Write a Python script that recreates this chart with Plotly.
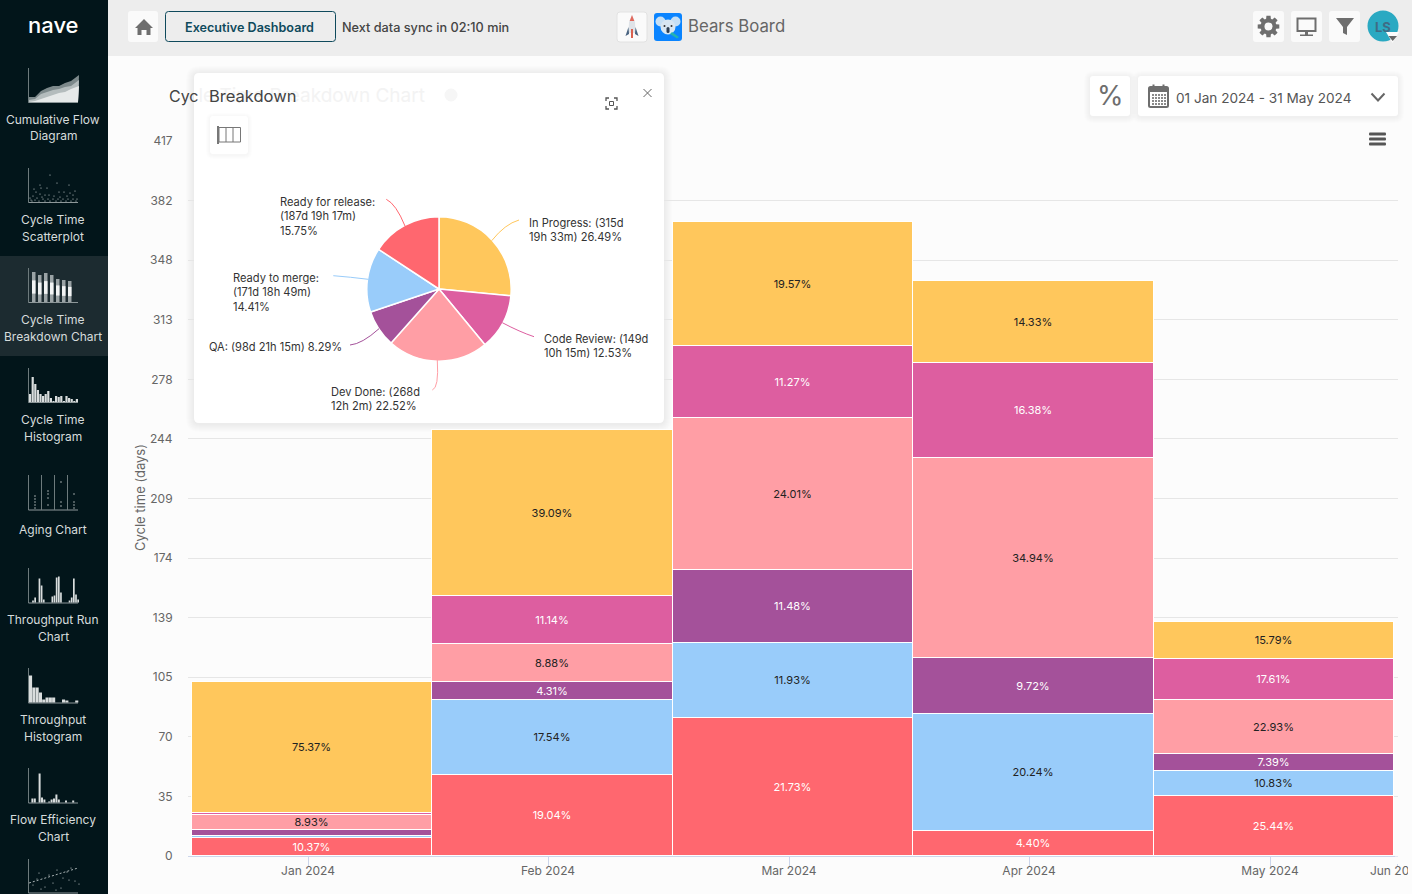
import math
import plotly.graph_objects as go

FONT = "Inter"
W, H = 1412, 894

# chart data
months = ["Jan 2024", "Feb 2024", "Mar 2024", "Apr 2024", "May 2024"]
tick_labels = ["Jan 2024", "Feb 2024", "Mar 2024", "Apr 2024", "May 2024", "Jun 2024"]
totals = [101.6, 248.5, 369.7, 335.3, 136.7]
in_progress = [75.37, 39.09, 19.57, 14.33, 15.79]
code_review = [0.90, 11.14, 11.27, 16.38, 17.61]
dev_done = [8.93, 8.88, 24.01, 34.94, 22.93]
qa = [3.43, 4.31, 11.48, 9.72, 7.39]
ready_to_merge = [1.00, 17.54, 11.93, 20.24, 10.83]
ready_for_release = [10.37, 19.04, 21.73, 4.40, 25.44]
y_tick_vals = [0, 34.75, 69.5, 104.25, 139, 173.75, 208.5, 243.25, 278, 312.75, 347.5, 382.25, 417]
y_tick_text = ["0", "35", "70", "105", "139", "174", "209", "244", "278", "313", "348", "382", "417"]

# pie data
pie_labels = ["In Progress", "Code Review", "Dev Done", "QA", "Ready to merge", "Ready for release"]
pie_values = [26.49, 12.53, 22.52, 8.29, 14.41, 15.75]

colors = {
    "In Progress": "#ffc75c",
    "Code Review": "#dd5ea0",
    "Dev Done": "#ff9ea5",
    "QA": "#a4519a",
    "Ready to merge": "#99ccfa",
    "Ready for release": "#ff676f",
}

# sidebar
nav_items = [
    (119, "Cumulative Flow"), (136, "Diagram"),
    (219, "Cycle Time"), (236, "Scatterplot"),
    (319, "Cycle Time"), (336, "Breakdown Chart"),
    (419, "Cycle Time"), (436, "Histogram"),
    (529, "Aging Chart"),
    (619, "Throughput Run"), (636, "Chart"),
    (719, "Throughput"), (736, "Histogram"),
    (819, "Flow Efficiency"), (836, "Chart"),
]

# little sidebar icon data
area_back = [5, 5, 11, 14, 16, 16, 19, 21, 27]
area_mid = [2, 3, 8, 10, 12, 13, 15, 16, 22]
area_front = [0, 1, 3, 5, 7, 9, 10, 13, 16]
area_x = [0, 6, 12, 18, 24, 30, 36, 42, 50]
scatter_dots = [(21, 27), (11, 17), (28, 19), (40, 17), (12, 14), (18, 14), (5, 13), (30, 10), (35, 10), (41, 9),
                (46, 11), (7, 10), (11, 8), (16, 7), (20, 7), (25, 6), (31, 5), (38, 6), (44, 7), (4, 6), (8, 4),
                (14, 3), (19, 3), (24, 3), (29, 3), (34, 3), (39, 3), (44, 3), (48, 3), (2, 2), (6, 2), (10, 1),
                (16, 1), (21, 1), (27, 1), (32, 1), (37, 1), (42, 1), (47, 1), (1, 4), (3, 1), (13, 5)]
stack_heights = [30, 27, 29, 27, 23, 22, 21]
hist_heights = [8, 25, 18, 12, 8, 6, 8, 11, 4, 1, 6, 5, 6, 1, 6, 4, 3, 1, 3]
aging_dots = [(6, 14), (6, 11), (6, 8), (6, 5), (6, 2), (19, 19), (19, 16), (19, 12), (19, 5),
              (32, 28), (32, 8), (32, 4), (45, 16), (45, 8), (45, 5), (45, 2)]
run_heights = [0, 2, 5, 0, 24, 17, 3, 0, 0, 0, 6, 7, 25, 26, 10, 0, 0, 0, 2, 5, 24, 8, 3]
tp_hist_heights = [27, 15, 15, 10, 3, 5, 5, 5, 0, 0, 3, 2, 0, 0, 2]
flow_heights = [0, 4, 4, 0, 29, 5, 3, 0, 1, 3, 4, 8, 3, 0, 0, 2, 0, 0, 2, 0]
trend_dots = [(4, 8), (8, 14), (10, 20), (16, 6), (20, 18), (24, 10), (28, 23), (32, 5), (34, 15), (38, 21),
              (42, 25), (46, 12), (50, 9), (12, 4), (27, 3), (40, 13)]


def fx(p):
    return p / W


def fy(p):
    return 1 - p / H


# bar chart pixel scale
def dx(p):
    return (p - 192) / 240.4 - 0.5


def dy(p):
    return (856 - p) / (715 / 417)


shapes = []
annotations = []


def rect(x0, y0, x1, y1, fill, line=None, layer="below", width=1):
    shapes.append(dict(type="rect", xref="paper", yref="paper", x0=fx(x0), x1=fx(x1), y0=fy(y0), y1=fy(y1),
                       fillcolor=fill, line=dict(color=line or fill, width=width if line else 0), layer=layer))


def rounded(x0, y0, x1, y1, r, fill, line=None, layer="below", opacity=1, width=1):
    a, b, c, d = fx(x0), fx(x1), fy(y0), fy(y1)
    rx, ry = r / W, r / H
    path = (f"M {a + rx} {c} L {b - rx} {c} Q {b} {c} {b} {c - ry} L {b} {d + ry} Q {b} {d} {b - rx} {d} "
            f"L {a + rx} {d} Q {a} {d} {a} {d + ry} L {a} {c - ry} Q {a} {c} {a + rx} {c} Z")
    shapes.append(dict(type="path", xref="paper", yref="paper", path=path, fillcolor=fill, opacity=opacity,
                       line=dict(color=line or fill, width=width if line else 0), layer=layer))


def card(x0, y0, x1, y1, r, fill="#ffffff", spread=6, layer="below"):
    # soft shadow from a few stacked rectangles
    for i in range(spread, 0, -1):
        rounded(x0 - i, y0 - i + 1, x1 + i, y1 + i + 1, r + i, "#000000", opacity=0.006, layer=layer)
    rounded(x0, y0, x1, y1, r, fill, layer=layer)


def poly(points, fill=None, line=None, width=1, close=True, layer="below"):
    path = "M " + " L ".join(f"{fx(a)} {fy(b)}" for a, b in points) + (" Z" if close else "")
    shapes.append(dict(type="path", xref="paper", yref="paper", path=path, fillcolor=fill or "rgba(0,0,0,0)",
                       line=dict(color=line or "rgba(0,0,0,0)", width=width), layer=layer))


def seg(x0, y0, x1, y1, color, width=1, layer="below"):
    shapes.append(dict(type="line", xref="paper", yref="paper", x0=fx(x0), x1=fx(x1), y0=fy(y0), y1=fy(y1),
                       line=dict(color=color, width=width), layer=layer))


def curve(x0, y0, cx, cy, x1, y1, color):
    path = f"M {fx(x0)} {fy(y0)} Q {fx(cx)} {fy(cy)} {fx(x1)} {fy(y1)}"
    shapes.append(dict(type="path", xref="paper", yref="paper", path=path, line=dict(color=color, width=1),
                       fillcolor="rgba(0,0,0,0)", layer="above"))


def dot(x, y, r, color):
    shapes.append(dict(type="circle", xref="paper", yref="paper", x0=fx(x - r), x1=fx(x + r), y0=fy(y - r),
                       y1=fy(y + r), fillcolor=color, line=dict(width=0), layer="below"))


def txt(x, y, s, size=12, color="#444444", anchor="left", weight=400, angle=0):
    annotations.append(dict(x=fx(x), y=fy(y), xref="paper", yref="paper", text=s, showarrow=False, xanchor=anchor,
                            yanchor="middle", align=anchor if anchor != "center" else "center", textangle=angle,
                            font=dict(size=size, color=color, family=FONT, weight=weight), borderpad=0))


def axes_icon(top, bottom):
    seg(28.5, top, 28.5, bottom, "#6d7a7c")
    seg(28.5, bottom, 78, bottom, "#8d9799")


def bars_icon(bottom, heights, step, bar, x0=29, color="#d9dddd"):
    for i, h in enumerate(heights):
        if h:
            rect(x0 + i * step, bottom - h, x0 + i * step + bar, bottom, color)


# page pieces
rect(0, 0, W, H, "#fcfcfc")
rect(108, 0, W, 56, "#ededed")
rect(0, 0, 108, H, "#02151a")
rect(0, 256, 108, 356, "#1c2b30")

txt(53, 25, "nave", 22, "#ffffff", "center", weight=500)
for y, label in nav_items:
    txt(53, y, label, 12, "#d6dcdc", "center")

# sidebar icons
axes_icon(68, 102.5)
for layer_h, c in ((area_back, "#7d898b"), (area_mid, "#b4bcbd"), (area_front, "#e6e9e9")):
    poly([(29, 102)] + [(29 + a, 102 - h) for a, h in zip(area_x, layer_h)] + [(78, 102)], fill=c)

axes_icon(168, 202.5)
for a, h in scatter_dots:
    dot(29 + a, 202 - h, 0.6, "#cfd5d5")

axes_icon(268, 302.5)
for i, h in enumerate(stack_heights):
    bx = 32 + i * 6
    rect(bx, 302 - h, bx + 3.5, 302, "#9aa3a5")
    rect(bx, 302 - h * 0.72, bx + 3.5, 302 - h * 0.28, "#f2f4f4")

axes_icon(368, 402.5)
bars_icon(402, hist_heights, 2.6, 2.2)

axes_icon(475, 510)
for k in (41.5, 54.5, 67.5):
    seg(k, 475, k, 510, "#6d7a7c")
for a, h in aging_dots:
    dot(29 + a, 510 - h, 0.7, "#cfd5d5")

axes_icon(568, 603)
bars_icon(602.5, run_heights, 2.15, 1.7, x0=30)

axes_icon(668, 703)
bars_icon(702.5, tp_hist_heights, 3.3, 3.1)

axes_icon(768, 803)
bars_icon(802.5, flow_heights, 2.4, 2)

axes_icon(859, 893)
for a, h in trend_dots:
    dot(29 + a, 893 - h, 0.6, "#cfd5d5")
poly([(29, 883), (78, 868)], line="#aab3b4", close=False)
shapes[-1]["line"]["dash"] = "2px,2px"

# top bar
rounded(128, 11, 158, 42, 3, "#fafafa")
poly([(144, 19), (135, 28), (137.5, 28), (137.5, 35), (141.5, 35), (141.5, 30), (146.5, 30), (146.5, 35),
      (150.5, 35), (150.5, 28), (153, 28)], fill="#6e6e6e")
rounded(165.5, 11.5, 335.5, 41.5, 3, "rgba(0,0,0,0)", line="#0f4a5c")
txt(250, 27, "Executive Dashboard", 12.6, "#0f4a5c", "center", weight=600)
txt(341, 27, "Next data sync in 02:10 min", 12.7, "#444444", weight=500)

# rocket
rounded(617, 12, 647, 42, 3, "#fafafa", line="#e2e2e2")
poly([(632, 15), (635, 22), (635.5, 33), (628.5, 33), (629, 22)], fill="#dfe3e8")
poly([(632, 15), (634.3, 21), (629.7, 21)], fill="#e2695c")
poly([(628.5, 27), (625.5, 36), (629, 34)], fill="#47617f")
poly([(635.5, 27), (638.5, 36), (635, 34)], fill="#47617f")
rect(631, 29, 633, 38, "#d9604f")
# koala
rounded(654, 13, 682, 41, 3, "#0a84ff")
dot(660.5, 21.5, 5, "#c5dff5")
dot(675.5, 21.5, 5, "#c5dff5")
dot(668, 27, 7.5, "#d8e6f2")
dot(664.5, 26, 1, "#333333")
dot(671.5, 26, 1, "#333333")
rounded(666.5, 27, 669.5, 33, 1.5, "#2f3f52")
poly([(672, 32), (679, 37), (677, 38.5), (670, 34)], fill="#24b3b0")
txt(687, 26, "Bears Board", 16.8, "#666666")

for bx in (1253, 1291, 1329):
    rounded(bx, 11, bx + 31, 42, 3, "#fafafa")
# gear
gear = []
for i in range(8):
    a0 = i * math.pi / 4
    for off, rad in ((-0.3, 8), (-0.19, 11), (0.19, 11), (0.3, 8)):
        gear.append((1268.5 + rad * math.cos(a0 + off), 26.5 + rad * math.sin(a0 + off)))
poly(gear, fill="#6e6e6e")
dot(1268.5, 26.5, 4, "#fafafa")
# monitor
rect(1297.5, 18.5, 1315.5, 31, "rgba(0,0,0,0)", line="#6e6e6e", width=2)
rect(1305, 32, 1308, 35, "#6e6e6e")
rect(1300, 34.5, 1313, 36, "#6e6e6e")
# filter
poly([(1336, 18), (1354, 18), (1347, 27), (1347, 35), (1343, 33), (1343, 27)], fill="#6e6e6e")
# avatar
dot(1383, 26, 15.5, "#2aa9c2")
txt(1383, 27, "LS", 13, "#3f6c85", "center", weight=700)
poly([(1386, 32), (1399, 32), (1392.5, 43)], fill="#fcfcfc")
poly([(1388.5, 36), (1397, 36), (1392.7, 41)], fill="#666666")

# date controls
card(1090, 76, 1130, 116, 3)
txt(1110, 96, "%", 27, "#6e6e6e", "center")
card(1138, 76, 1398, 116, 3)
rounded(1149, 87, 1168, 107, 1.5, "rgba(0,0,0,0)", line="#6e6e6e", width=2)
rect(1149, 87, 1168, 92, "#6e6e6e")
seg(1153.5, 84.5, 1153.5, 88, "#6e6e6e", 2)
seg(1163.5, 84.5, 1163.5, 88, "#6e6e6e", 2)
for cx in range(1152, 1165, 3):
    for cy in range(94, 105, 3):
        rect(cx, cy, cx + 2, cy + 2, "#8a8a8a")
txt(1175, 98, "01 Jan 2024 - 31 May 2024", 13.6, "#555555")
poly([(1371.5, 93.5), (1378, 100.5), (1384.5, 93.5)], line="#666666", width=2, close=False)

# hamburger menu
rect(1366, 130, 1389, 150, "#fcfcfc", layer="above")
for by in (134, 139, 144):
    rounded(1369, by - 1.5, 1386, by + 1.5, 1, "#555555", layer="above")

# page title, the rest of it sits behind the popup
annotations.append(dict(x=fx(168), y=fy(95), xref="paper", yref="paper", showarrow=False, xanchor="left",
                        yanchor="middle", borderpad=0, font=dict(size=19, color="#444444", family=FONT),
                        text="<span style='font-size:16px'>Cyc</span>"
                             "<span style='color:#f3f3f3'>le Time Breakdown Chart</span>"))

# popup
card(194, 73, 664, 423, 5, spread=8)
shapes.append(dict(type="rect", xref="x", yref="y", x0=dx(194), x1=dx(664), y0=dy(400), y1=dy(130),
                   fillcolor="#ffffff", line=dict(width=0), layer="between"))
dot(451, 95, 6.5, "#f6f6f6")
txt(208, 96, "Breakdown", 16.5, "#444444")
card(210, 116, 248, 154, 3, spread=4, layer="above")
rect(219, 127.5, 240.5, 142, "rgba(0,0,0,0)", line="#777777", layer="above")
seg(218, 126, 218, 144, "#777777", 2, layer="above")
seg(226, 127.5, 226, 142, "#777777", layer="above")
seg(233, 127.5, 233, 142, "#777777", layer="above")
# focus icon
for sx, sy in ((606, 98), (617, 98), (606, 109), (617, 109)):
    hx = 3 if sx == 606 else -3
    hy = 3 if sy == 98 else -3
    poly([(sx + hx, sy), (sx, sy), (sx, sy + hy)], line="#555555", width=1.3, close=False)
rect(609.5, 101.5, 613.5, 105.5, "rgba(0,0,0,0)", line="#555555")
seg(643.5, 89, 651.5, 97, "#666666")
seg(651.5, 89, 643.5, 97, "#666666")

# pie leader lines and labels
curve(491.7, 240.7, 505, 224, 519, 220, colors["In Progress"])
curve(405, 226, 396, 204, 386.3, 199.3, colors["Ready for release"])
curve(368.3, 279.3, 350, 277, 333.3, 275.7, colors["Ready to merge"])
curve(379, 328.7, 362, 344, 350, 345, colors["QA"])
curve(437.3, 360, 439, 388, 432.3, 390, colors["Dev Done"])
curve(502.3, 322.7, 520, 332, 534, 336.7, colors["Code Review"])
txt(279, 216, "Ready for release:<br>(187d 19h 17m)<br>15.75%", 11.1, "#333333")
txt(528, 230, "In Progress: (315d<br>19h 33m) 26.49%", 11.1, "#333333")
txt(232, 292, "Ready to merge:<br>(171d 18h 49m)<br>14.41%", 11.1, "#333333")
txt(208, 347, "QA: (98d 21h 15m) 8.29%", 11.1, "#333333")
txt(330, 399, "Dev Done: (268d<br>12h 2m) 22.52%", 11.1, "#333333")
txt(543, 346, "Code Review: (149d<br>10h 15m) 12.53%", 11.1, "#333333")

txt(140, 498, "Cycle time (days)", 13, "#666666", "center", angle=-90)

# the page cuts the last month label, and that month has no tick
rect(1395, 856.5, 1400, 864, "#fcfcfc", layer="above")
rect(1408, 860, 1412, 885, "#fcfcfc", layer="above")

fig = go.Figure()

series = [
    ("Ready for release", ready_for_release, "#ffffff"),
    ("Ready to merge", ready_to_merge, "#222222"),
    ("QA", qa, "#ffffff"),
    ("Dev Done", dev_done, "#222222"),
    ("Code Review", code_review, "#ffffff"),
    ("In Progress", in_progress, "#222222"),
]
for name, pct, text_color in series:
    fig.add_trace(go.Bar(
        x=list(range(len(months))),
        y=[t * p / 100 for t, p in zip(totals, pct)],
        name=name,
        width=1,
        marker=dict(color=colors[name], line=dict(color="#ffffff", width=1)),
        text=[f"{p:.2f}%" if p >= 4 else "" for p in pct],
        textposition="inside",
        insidetextanchor="middle",
        textangle=0,
        constraintext="none",
        textfont=dict(size=11, color=text_color, family=FONT),
        showlegend=False,
    ))

fig.add_trace(go.Pie(
    labels=pie_labels,
    values=pie_values,
    sort=False,
    direction="clockwise",
    rotation=0,
    textinfo="none",
    marker=dict(colors=[colors[k] for k in pie_labels], line=dict(color="#ffffff", width=1.5)),
    domain=dict(x=[fx(366.8), fx(511.2)], y=[fy(361.2), fy(216.8)]),
    showlegend=False,
))

fig.update_layout(
    width=W, height=H,
    margin=dict(l=0, r=0, t=0, b=0),
    autosize=False,
    paper_bgcolor="#fcfcfc",
    plot_bgcolor="#fcfcfc",
    barmode="stack",
    bargap=0,
    font=dict(family=FONT, color="#666666", size=12),
    shapes=shapes,
    annotations=annotations,
    xaxis=dict(
        domain=[fx(188), fx(1398)],
        range=[dx(188), dx(1398)],
        automargin=False,
        tickmode="array",
        tickvals=[dx(308), dx(548), dx(789), dx(1029), dx(1270), dx(1397)],
        ticktext=tick_labels,
        ticks="outside", ticklen=10, tickcolor="#ccd6eb",
        ticklabelstandoff=-6,
        showline=True, linecolor="#ccd6eb",
        showgrid=False, zeroline=False,
        ticklabeloverflow="allow",
        tickfont=dict(size=12, color="#666666"),
    ),
    yaxis=dict(
        domain=[fy(856), fy(141)],
        range=[0, 417],
        automargin=False,
        tickmode="array",
        tickvals=y_tick_vals,
        ticktext=y_tick_text,
        ticks="outside", ticklen=12, tickcolor="rgba(0,0,0,0)",
        showgrid=True, gridcolor="#e6e6e6", gridwidth=1,
        zeroline=False, showline=False,
        tickfont=dict(size=12, color="#666666"),
    ),
)

fig.write_html("out.html", config={"displayModeBar": False},
               post_script="document.body.style.margin='0';")
